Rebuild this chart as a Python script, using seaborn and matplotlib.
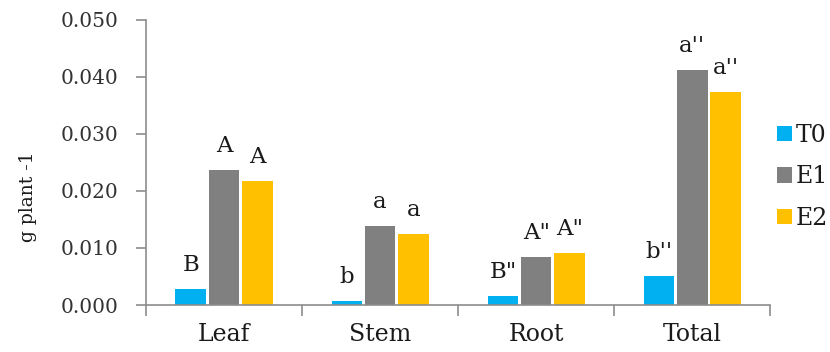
import matplotlib
matplotlib.use("Agg")
import matplotlib.pyplot as plt
import seaborn as sns
import pandas as pd
from matplotlib.ticker import MultipleLocator, FixedLocator, NullFormatter, FormatStrFormatter

# Biomass per plant by organ and treatment
organs = ["Leaf", "Stem", "Root", "Total"]
treatments = ["T0", "E1", "E2"]
t0_values = [0.0028, 0.0007, 0.0016, 0.0051]
e1_values = [0.0237, 0.0139, 0.0084, 0.0412]
e2_values = [0.0218, 0.0125, 0.0091, 0.0374]

# Significance letters above each bar
t0_letters = ["B", "b", 'B"', "b''"]
e1_letters = ["A", "a", 'A"', "a''"]
e2_letters = ["A", "a", 'A"', "a''"]

colors = ["#00B0F0", "#808080", "#FFC000"]

df = pd.DataFrame({
    "organ": organs * 3,
    "treatment": [t for t in treatments for _ in organs],
    "value": t0_values + e1_values + e2_values,
})

sns.set_style("white")
plt.rcParams["font.family"] = ["DejaVu Serif", "DejaVu Sans"]

fig = plt.figure(figsize=(8.3, 3.52), dpi=100)
ax = fig.add_axes([0.176, 0.1335, 0.752, 0.81])

sns.barplot(data=df, x="organ", y="value", hue="treatment", order=organs,
            hue_order=treatments, palette=colors, width=0.64, gap=0.08,
            errorbar=None, ax=ax, saturation=1, linewidth=0)

# letters above bars
for container, labs in zip(ax.containers, [t0_letters, e1_letters, e2_letters]):
    for bar, lab in zip(container, labs):
        ax.annotate(lab, (bar.get_x() + bar.get_width() / 2, bar.get_height()),
                    xytext=(0, 13), textcoords="offset points",
                    ha="center", va="baseline", fontsize=16.5, color="#1a1a1a")

ax.set_xlim(-0.5, 3.5)
ax.set_ylim(0, 0.050)
ax.yaxis.set_major_locator(MultipleLocator(0.010))
ax.yaxis.set_major_formatter(FormatStrFormatter("%.3f"))
ax.xaxis.set_minor_locator(FixedLocator([-0.5, 0.5, 1.5, 2.5, 3.5]))
ax.xaxis.set_minor_formatter(NullFormatter())

for s in ["top", "right"]:
    ax.spines[s].set_visible(False)
for s in ["left", "bottom"]:
    ax.spines[s].set_color("#8c8c8c")
    ax.spines[s].set_linewidth(1.2)

ax.tick_params(axis="x", which="major", bottom=True, length=0, pad=13,
               labelsize=17, labelcolor="#1a1a1a")
ax.tick_params(axis="x", which="minor", bottom=True, length=8, width=1.2,
               color="#8c8c8c", direction="out")
ax.tick_params(axis="y", which="major", left=True, length=7, width=1.2, color="#8c8c8c",
               direction="out", labelsize=14.5, labelcolor="#333333", pad=13)

ax.set_xlabel("")
ax.set_ylabel("g plant -1", fontsize=13.5, color="#1a1a1a")
ax.yaxis.set_label_coords(-0.175, 0.38)

leg = ax.legend(loc="center left", bbox_to_anchor=(1.011, 0.45), frameon=False,
                handlelength=0.64, handleheight=0.64, handletextpad=0.15,
                labelspacing=0.78, fontsize=17, borderaxespad=0, borderpad=0)
for t in leg.get_texts():
    t.set_color("#1a1a1a")

fig.savefig("out.png", dpi=100)
